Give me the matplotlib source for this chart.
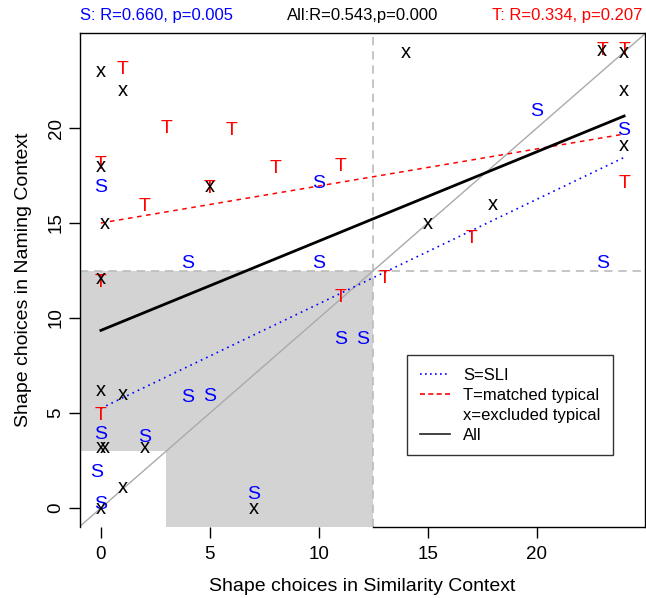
import numpy as np
import matplotlib
matplotlib.use('Agg')
import matplotlib.pyplot as plt
import matplotlib.transforms as mtransforms
from matplotlib.lines import Line2D

plt.rcParams['font.family'] = ['Liberation Sans', 'DejaVu Sans']

# S = SLI children (similarity context, naming context)
s_x = [20, 24, 0, 10, 4, 10, 23, 11, 12, 4, 5, 0, 2, -0.2, 0, 7]
s_y = [21, 20, 17, 17.2, 13, 13, 13, 9, 9, 5.9, 6, 4, 3.8, 2, 0.3, 0.8]

# T = matched typical
t_x = [1, 3, 6, 0, 8, 11, 2, 5, 23, 24, 24, 17, 13, 0, 11, 0]
t_y = [23.2, 20.1, 20, 18.2, 18, 18.1, 16, 16.9, 24.2, 24.2, 17.2, 14.3, 12.2, 12, 11.2, 5]

# x = excluded typical
x_x = [0, 1, 0, 0.2, 5, 14, 23, 24, 24, 24, 18, 15, 0, 0, 1, 0, 0.2, 2, 1, 0, 7]
x_y = [23, 22, 18, 15, 16.9, 24, 24.1, 24, 22, 19.1, 16, 15, 12.1, 6.2, 6, 3.2, 3.2, 3.2, 1.1, 0, 0]

# fitted lines (intercept, slope)
fit_s = (5.25, 0.55)
fit_t = (15.0, 0.195)
fit_all = (9.35, 0.47)

stats_s = 'S: R=0.660, p=0.005'
stats_all = 'All:R=0.543,p=0.000'
stats_t = 'T: R=0.334, p=0.207'

fig = plt.figure(figsize=(6.46, 5.98), dpi=100)
ax = fig.add_axes([0.1238, 0.1187, 0.8747, 0.8261])
ax.set_xlim(-0.96, 24.96)
ax.set_ylim(-1, 25)

# shaded region: both scores below 12.5, minus the low-low corner
poly_x = [-0.96, -0.96, 3, 3, 12.5, 12.5]
poly_y = [12.5, 3, 3, -1, -1, 12.5]
ax.fill(poly_x, poly_y, color='#d3d3d3', lw=0, zorder=1)
ax.axvline(12.5, color='#bbbbbb', ls=(0, (5, 3.5)), lw=1.2, zorder=2)
ax.axhline(12.5, color='#bbbbbb', ls=(0, (5, 3.5)), lw=1.2, zorder=2)
ax.plot([-1, 26], [-1, 26], color='#aaaaaa', lw=1, zorder=2)

xr = np.array([0, 24])
ax.plot(xr, fit_s[0] + fit_s[1] * xr, color='blue', ls=(0, (1, 2.5)), lw=1.2, zorder=3)
ax.plot(xr, fit_t[0] + fit_t[1] * xr, color='red', ls=(0, (3, 3)), lw=1.1, zorder=3)
ax.plot(xr, fit_all[0] + fit_all[1] * xr, color='black', lw=2, zorder=3)

# capital letters sit a little lower so their centre is on the point
cap_tr = mtransforms.offset_copy(ax.transData, fig=fig, x=0, y=-2, units='dots')
for px, py in zip(s_x, s_y):
    ax.text(px, py, 'S', color='blue', fontsize=14, ha='center', va='center', transform=cap_tr, zorder=4)
for px, py in zip(t_x, t_y):
    ax.text(px, py, 'T', color='red', fontsize=14, ha='center', va='center', transform=cap_tr, zorder=4)
for px, py in zip(x_x, x_y):
    ax.text(px, py, 'x', color='black', fontsize=14.5, ha='center', va='center', zorder=4)

ax.set_xticks([0, 5, 10, 15, 20])
ax.set_yticks([0, 5, 10, 15, 20])
ax.tick_params(direction='out', length=8, width=1, labelsize=13.5)
ax.tick_params(axis='x', pad=6)
ax.tick_params(axis='y', pad=3)
for lab in ax.get_yticklabels():
    lab.set_rotation(90)
    lab.set_va('center')
for sp in ax.spines.values():
    sp.set_linewidth(1)
ax.spines['bottom'].set_bounds(12.5, 24.96)

ax.set_xlabel('Shape choices in Similarity Context', fontsize=14)
ax.set_ylabel('Shape choices in Naming Context', fontsize=14)
ax.xaxis.set_label_coords(0.5, -0.103)
ax.yaxis.set_label_coords(-0.085, 0.5)

ax.text(0, 1.026, stats_s, color='blue', fontsize=12, transform=ax.transAxes, ha='left', va='baseline')
ax.text(0.5, 1.026, stats_all, color='black', fontsize=12, transform=ax.transAxes, ha='center', va='baseline')
ax.text(0.995, 1.026, stats_t, color='red', fontsize=12, transform=ax.transAxes, ha='right', va='baseline')

handles = [
    Line2D([], [], color='blue', ls=(0, (1, 2)), lw=1.2),
    Line2D([], [], color='red', ls=(0, (3, 2)), lw=1.2),
    Line2D([], [], color='none'),
    Line2D([], [], color='#222222', lw=1.2),
]
labels = ['S=SLI', 'T=matched typical', 'x=excluded typical', 'All']
leg = ax.legend(handles, labels, loc='upper left', bbox_to_anchor=(0.5788, 0.348),
                fontsize=12, frameon=True, fancybox=False, edgecolor='black',
                handlelength=1.8, labelspacing=0.3, borderpad=0.75, handletextpad=0.8,
                borderaxespad=0)
leg.get_frame().set_linewidth(1)

fig.savefig('out.png', dpi=100)
